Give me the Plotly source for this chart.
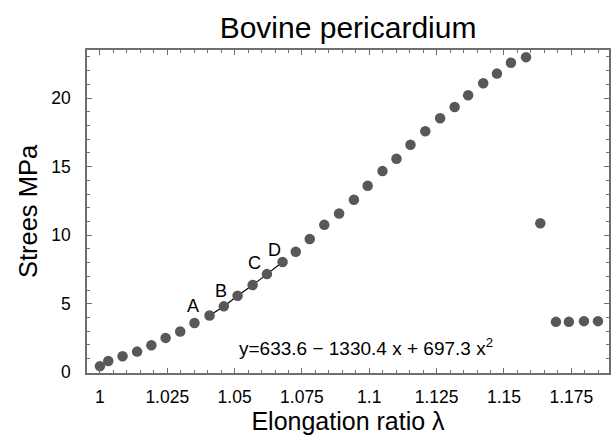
import plotly.graph_objects as go

# Data
elongation = [1.000, 1.0031, 1.0084, 1.0138, 1.0191, 1.0244, 1.0298, 1.0351, 1.0407, 1.0460,
              1.0511, 1.0567, 1.0620, 1.0678, 1.0727, 1.0779, 1.0833, 1.0888, 1.0943, 1.0994,
              1.1049, 1.1101, 1.1153, 1.1208, 1.1263, 1.1317, 1.1367, 1.1423, 1.1474, 1.1526,
              1.1582, 1.1635, 1.1693, 1.1741, 1.1797, 1.1849]
stress = [0.45, 0.83, 1.17, 1.51, 1.97, 2.51, 2.98, 3.60, 4.14, 4.81,
          5.58, 6.36, 7.16, 8.04, 8.79, 9.72, 10.75, 11.58, 12.58, 13.60,
          14.67, 15.57, 16.59, 17.57, 18.53, 19.35, 20.20, 21.07, 21.78, 22.57,
          22.98, 10.87, 3.68, 3.68, 3.73, 3.73]

fit_start, fit_end = 8, 14  # fitted segment A..D (indices into the arrays)

point_labels = ["A", "B", "C", "D"]
label_x = [1.0345, 1.0448, 1.0573, 1.0647]
label_y = [4.82, 5.94, 7.94, 8.92]

x_ticks = [1, 1.025, 1.05, 1.075, 1.1, 1.125, 1.15, 1.175]
x_tick_text = ["1", "1.025", "1.05", "1.075", "1.1", "1.125", "1.15", "1.175"]
y_ticks = [0, 5, 10, 15, 20]

equation = "y=633.6 \u2212 1330.4 x + 697.3 x<sup>2</sup>"

FONT = "Liberation Sans, Arial, sans-serif"
FRAME = "#6e6e6e"

fig = go.Figure()
fig.add_trace(go.Scatter(
    x=elongation[fit_start:fit_end], y=stress[fit_start:fit_end],
    mode="lines", line=dict(color="black", width=1.2, shape="spline"),
    hoverinfo="skip", showlegend=False))
fig.add_trace(go.Scatter(
    x=elongation, y=stress, mode="markers",
    marker=dict(color="#585858", size=10.5, line=dict(width=0)),
    showlegend=False))

for t, lx, ly in zip(point_labels, label_x, label_y):
    fig.add_annotation(x=lx, y=ly, text=t, showarrow=False,
                       font=dict(family=FONT, size=18, color="black"))

fig.add_annotation(x=1.0988, y=1.83, text=equation, showarrow=False,
                   font=dict(family=FONT, size=19, color="black"))

axis_common = dict(
    showgrid=False, zeroline=False, showline=True, linecolor=FRAME, linewidth=1.5,
    mirror="allticks", ticks="inside", ticklen=5, tickcolor=FRAME, tickwidth=1,
)

fig.update_layout(
    width=616, height=436,
    margin=dict(l=87, r=5, t=50, b=63),
    paper_bgcolor="white", plot_bgcolor="white",
    title=dict(text="Bovine pericardium", x=0.565, xanchor="center", y=0.938, yanchor="middle",
               font=dict(family=FONT, size=30, color="black")),
    xaxis=dict(range=[0.9952, 1.1890], tickvals=x_ticks, ticktext=x_tick_text,
               tickfont=dict(family=FONT, size=17.5, color="black"), ticklabelstandoff=7,
               minor=dict(dtick=0.005, tick0=1, ticks="inside", ticklen=3, tickcolor=FRAME),
               title=dict(text="Elongation ratio \u03bb", font=dict(family=FONT, size=25, color="black"),
                          standoff=3),
               **axis_common),
    yaxis=dict(range=[-0.05, 23.5], tickvals=y_ticks,
               tickfont=dict(family=FONT, size=17.5, color="black"), ticklabelstandoff=11,
               minor=dict(dtick=1, tick0=0, ticks="inside", ticklen=3, tickcolor=FRAME),
               title=dict(text="Strees MPa", font=dict(family=FONT, size=25.5, color="black"),
                          standoff=6),
               **axis_common),
)

fig.write_html("out.html")
